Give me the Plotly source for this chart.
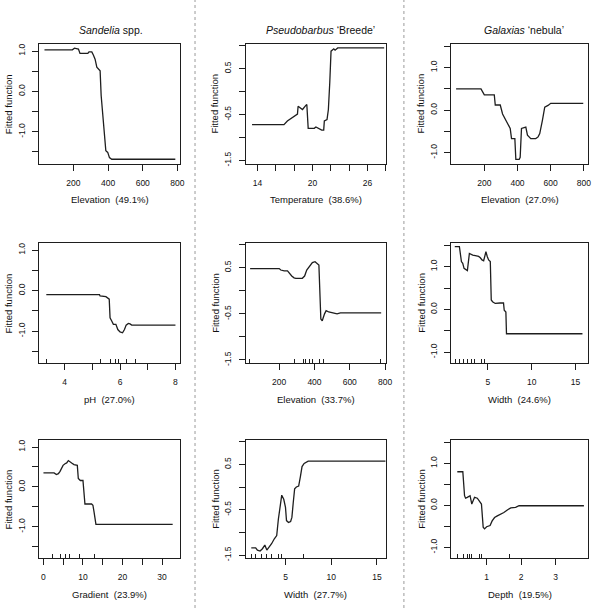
import plotly.graph_objects as go

# ---------------- data ----------------
species_titles = ["<i>Sandelia</i> spp.", "<i>Pseudobarbus</i> ‘Breede’", "<i>Galaxias</i> ‘nebula’"]

# Row 1
sand_elev_x = [33, 194, 206, 229, 238, 283, 290, 306, 315, 325, 335, 344, 354, 360, 367, 377, 387, 398, 408, 421, 431, 788]
sand_elev_y = [1.03, 1.03, 1.07, 1.05, 0.94, 0.94, 0.98, 0.98, 0.90, 0.80, 0.60, 0.55, 0.51, -0.10, -0.52, -1.00, -1.47, -1.51, -1.64, -1.68, -1.68, -1.68]

pseu_temp_x = [13.41, 16.89, 17.26, 17.63, 17.99, 18.36, 18.43, 18.91, 19.27, 19.38, 19.53, 20.19, 20.37, 20.74, 21.0, 21.22, 21.29, 21.58, 21.73, 21.88, 22.02, 22.32, 22.46, 22.75, 27.81]
pseu_temp_y = [-0.72, -0.72, -0.64, -0.59, -0.55, -0.49, -0.32, -0.39, -0.30, -0.28, -0.80, -0.80, -0.77, -0.81, -0.84, -0.84, -0.64, -0.61, -0.39, 0.19, 0.88, 0.93, 0.90, 0.95, 0.95]

gala_elev_x = [30, 180, 200, 260, 266, 296, 310, 324, 344, 356, 364, 384, 390, 410, 416, 424, 450, 460, 480, 510, 524, 534, 550, 564, 584, 600, 796]
gala_elev_y = [0.50, 0.50, 0.36, 0.36, 0.12, 0.12, -0.09, -0.20, -0.32, -0.43, -0.67, -0.67, -1.16, -1.16, -1.11, -0.43, -0.40, -0.59, -0.67, -0.67, -0.63, -0.55, -0.24, 0.07, 0.11, 0.16, 0.16]

# Row 2
sand_ph_x = [3.34, 5.26, 5.28, 5.49, 5.61, 5.64, 5.70, 5.76, 5.85, 5.92, 6.00, 6.09, 6.16, 6.22, 6.30, 6.36, 6.42, 8.0]
sand_ph_y = [-0.10, -0.10, -0.13, -0.15, -0.21, -0.67, -0.75, -0.83, -0.83, -0.96, -1.02, -1.04, -0.96, -0.85, -0.81, -0.82, -0.85, -0.85]

pseu_elev_x = [35, 200, 209, 228, 247, 256, 271, 284, 294, 331, 344, 356, 373, 388, 403, 418, 425, 436, 444, 457, 466, 481, 510, 528, 547, 778]
pseu_elev_y = [0.48, 0.48, 0.45, 0.43, 0.43, 0.38, 0.32, 0.28, 0.27, 0.27, 0.32, 0.45, 0.54, 0.61, 0.63, 0.59, 0.56, -0.61, -0.65, -0.50, -0.43, -0.46, -0.49, -0.50, -0.48, -0.48]

gala_width_x = [1.21, 1.74, 1.97, 2.12, 2.27, 2.50, 2.65, 2.88, 3.26, 3.56, 3.94, 4.13, 4.32, 4.51, 4.62, 4.77, 4.92, 5.08, 5.27, 5.38, 5.53, 5.83, 6.40, 6.78, 6.86, 7.05, 7.12, 15.80]
gala_width_y = [1.47, 1.47, 1.12, 1.08, 0.96, 0.92, 0.91, 1.31, 1.27, 1.26, 1.24, 1.21, 1.16, 1.14, 1.27, 1.35, 1.24, 1.16, 1.12, 0.22, 0.18, 0.14, 0.15, 0.15, -0.02, -0.06, -0.57, -0.57]

# Row 3
sand_grad_x = [0, 2.69, 3.28, 3.78, 4.20, 4.62, 4.96, 5.46, 5.88, 6.30, 6.72, 7.14, 7.73, 8.57, 8.82, 9.33, 10.0, 10.5, 12.18, 12.52, 12.77, 13.03, 13.28, 32.7]
sand_grad_y = [0.35, 0.35, 0.31, 0.33, 0.39, 0.48, 0.54, 0.58, 0.60, 0.66, 0.64, 0.60, 0.56, 0.54, 0.21, 0.16, 0.16, -0.43, -0.43, -0.46, -0.61, -0.82, -0.94, -0.94]

pseu_width_x = [1.26, 1.74, 1.93, 2.22, 2.48, 2.74, 2.96, 3.22, 3.48, 3.78, 4.04, 4.22, 4.44, 4.59, 4.81, 5.0, 5.11, 5.33, 5.56, 5.70, 5.85, 6.0, 6.19, 6.44, 6.63, 6.81, 7.04, 7.30, 7.48, 15.93]
pseu_width_y = [-1.34, -1.34, -1.39, -1.41, -1.36, -1.28, -1.39, -1.32, -1.25, -1.14, -1.07, -0.71, -0.34, -0.18, -0.27, -0.45, -0.74, -0.78, -0.76, -0.67, -0.34, -0.04, 0.0, 0.02, 0.23, 0.45, 0.52, 0.56, 0.57, 0.57]

gala_depth_x = [0.15, 0.31, 0.36, 0.39, 0.44, 0.52, 0.57, 0.61, 0.65, 0.73, 0.78, 0.85, 0.90, 0.94, 1.0, 1.10, 1.16, 1.23, 1.31, 1.41, 1.50, 1.60, 1.70, 1.84, 1.94, 3.82]
gala_depth_y = [0.80, 0.80, 0.23, 0.17, 0.19, 0.23, 0.03, 0.11, 0.19, 0.17, 0.11, 0.03, -0.52, -0.56, -0.51, -0.48, -0.37, -0.29, -0.25, -0.21, -0.17, -0.11, -0.06, -0.05, -0.01, -0.01]

x_labels = ["Elevation  (49.1%)", "Temperature  (38.6%)", "Elevation  (27.0%)",
            "pH  (27.0%)", "Elevation  (33.7%)", "Width  (24.6%)",
            "Gradient  (23.9%)", "Width  (27.7%)", "Depth  (19.5%)"]

x_tickvals = [[200, 400, 600, 800], [14, 16, 18, 20, 22, 24, 26, 28], [200, 400, 600, 800],
              [4, 5, 6, 7, 8], [200, 400, 600, 800], [5, 10, 15],
              [0, 5, 10, 15, 20, 25, 30], [5, 10, 15], [1, 2, 3]]
x_ticktext = [["200", "400", "600", "800"], ["14", "", "", "20", "", "", "26", ""], ["200", "400", "600", "800"],
              ["4", "", "6", "", "8"], ["200", "400", "600", "800"], ["5", "10", "15"],
              ["0", "", "10", "", "20", "", "30"], ["5", "10", "15"], ["1", "2", "3"]]

rug_vals = [[], [], [],
            [3.34, 5.28, 5.64, 5.82, 5.94, 6.22, 6.55],
            [33, 286, 337, 348, 371, 387, 427, 449, 776],
            [1.29, 1.74, 2.23, 2.61, 3.07, 3.49, 4.24, 4.62],
            [2.3, 4.4, 5.6, 6.7, 9.0, 13.0],
            [1.26, 1.74, 2.37, 2.96, 3.52, 4.26, 4.59, 6.93],
            [0.15, 0.34, 0.44, 0.50, 0.56, 0.78, 0.86, 1.65]]

y_tickvals = [[-1.5, -1.0, -0.5, 0.0, 0.5, 1.0],
              [-1.5, -1.0, -0.5, 0.0, 0.5, 1.0],
              [-1.0, -0.5, 0.0, 0.5, 1.0, 1.5]]
y_ticktext = [["", "-1.0", "", "0.0", "", "1.0"],
              ["-1.5", "", "-0.5", "", "0.5", ""],
              ["-1.0", "", "0.0", "", "1.0", ""]]

# ---------------- layout constants ----------------
W, H = 600, 611
col_px = [(39.5, 182), (248, 390), (456, 594)]
row_px = [(44, 164.5), (244, 365), (442, 561)]
x_ranges = [[2, 816], [12.7, 28.02], [2, 825],
            [3.08, 8.17], [9, 806], [0.83, 16.44],
            [-1.1, 34.6], [0.63, 16.0], [-0.02, 3.94]]
y_ranges = [[-1.79, 1.18], [-1.57, 1.04], [-1.26, 1.56]]

FONT = "Liberation Sans, Arial, Helvetica, sans-serif"
INK = "#1e1e1e"


def px_x(p):
    return p / W


def px_y(p):
    return 1 - p / H


panels_x = [sand_elev_x, pseu_temp_x, gala_elev_x, sand_ph_x, pseu_elev_x, gala_width_x, sand_grad_x, pseu_width_x, gala_depth_x]
panels_y = [sand_elev_y, pseu_temp_y, gala_elev_y, sand_ph_y, pseu_elev_y, gala_width_y, sand_grad_y, pseu_width_y, gala_depth_y]

fig = go.Figure()
annotations = []
for i in range(9):
    r, c = divmod(i, 3)
    n = i + 1
    xa = "x" if n == 1 else f"x{n}"
    ya = "y" if n == 1 else f"y{n}"
    fig.add_trace(go.Scatter(x=panels_x[i], y=panels_y[i], mode="lines",
                             line=dict(color=INK, width=1.3),
                             xaxis=xa, yaxis=ya, showlegend=False, hoverinfo="skip"))
    xd = [px_x(col_px[c][0]), px_x(col_px[c][1])]
    yd = [px_y(row_px[r][1]), px_y(row_px[r][0])]
    xaxis = dict(domain=xd, anchor=ya, range=x_ranges[i], tickmode="array",
                 tickvals=x_tickvals[i], ticktext=x_ticktext[i],
                 ticks="outside", ticklen=6, tickwidth=1, tickcolor=INK,
                 showline=True, mirror=True, linecolor=INK, linewidth=1,
                 showgrid=False, zeroline=False, ticklabelstandoff=5,
                 tickfont=dict(family=FONT, size=8.5, color="#111"))
    if rug_vals[i]:
        xaxis["minor"] = dict(tickmode="array", tickvals=rug_vals[i], ticks="inside",
                              ticklen=4, tickwidth=1, tickcolor=INK, showgrid=False)
    yaxis = dict(domain=yd, anchor=xa, range=y_ranges[c], tickmode="array",
                 tickvals=y_tickvals[c], ticktext=y_ticktext[c], tickangle=-90,
                 ticks="outside", ticklen=6, tickwidth=1, tickcolor=INK,
                 showline=True, mirror=True, linecolor=INK, linewidth=1,
                 showgrid=False, zeroline=False, ticklabelstandoff=4,
                 tickfont=dict(family=FONT, size=8.5, color="#111"))
    fig.layout["xaxis" if n == 1 else f"xaxis{n}"] = xaxis
    fig.layout["yaxis" if n == 1 else f"yaxis{n}"] = yaxis

    xc = px_x((col_px[c][0] + col_px[c][1]) / 2)
    annotations.append(dict(text=x_labels[i], xref="paper", yref="paper", x=xc,
                            y=px_y(row_px[r][1] + 36), xanchor="center", yanchor="middle",
                            showarrow=False, font=dict(family=FONT, size=9.5, color="#111")))
    annotations.append(dict(text="Fitted function", xref="paper", yref="paper",
                            x=px_x(col_px[c][0] - 31), y=px_y((row_px[r][0] + row_px[r][1]) / 2),
                            xanchor="center", yanchor="middle", textangle=-90,
                            showarrow=False, font=dict(family=FONT, size=9.5, color="#111")))

title_x_px = [112, 324, 529]
for c in range(3):
    annotations.append(dict(text=species_titles[c], xref="paper", yref="paper",
                            x=px_x(title_x_px[c]), y=px_y(30), xanchor="center", yanchor="middle",
                            showarrow=False, font=dict(family=FONT, size=10.5, color="#111")))

shapes = []
for sx in [197, 408]:
    shapes.append(dict(type="line", xref="paper", yref="paper", x0=px_x(sx), x1=px_x(sx), y0=0, y1=1,
                       line=dict(color="#9a9a9a", width=1, dash="dot")))

fig.update_layout(width=W, height=H, margin=dict(l=0, r=0, t=0, b=0),
                  paper_bgcolor="white", plot_bgcolor="white",
                  annotations=annotations, shapes=shapes, showlegend=False,
                  font=dict(family=FONT, color="#111"))

# remove the browser's default 8px body margin so the figure fills the window
fig.write_html("out.html", config={"displayModeBar": False},
               post_script="document.body.style.margin='0';")
